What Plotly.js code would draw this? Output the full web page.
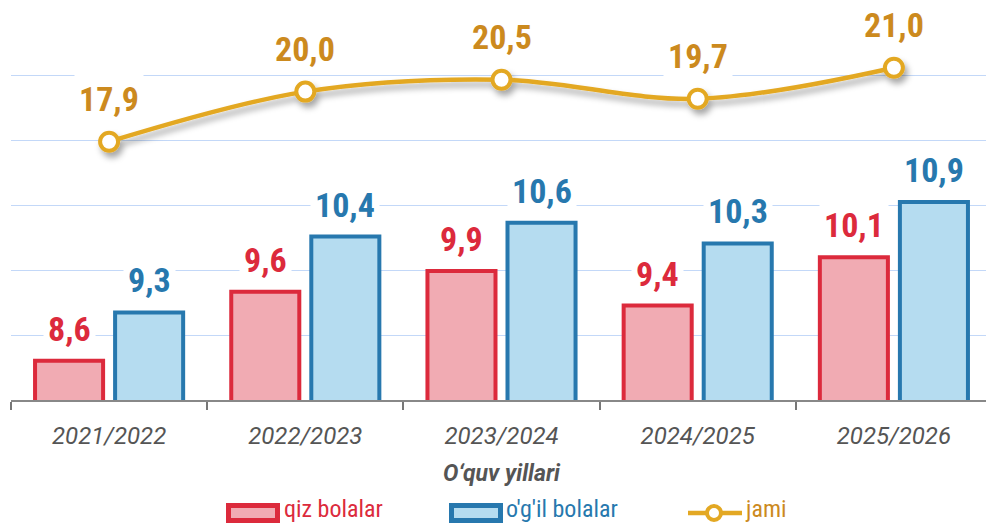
<!DOCTYPE html>
<html>
<head>
<meta charset="utf-8">
<script src="https://cdn.plot.ly/plotly-3.0.1.min.js"></script>
<style>
html,body{margin:0;padding:0;overflow:hidden;background:#fff;}
#chart{width:992px;height:524px;}
</style>
</head>
<body>
<div id="chart"></div>
<script>
const categories = ['2021/2022', '2022/2023', '2023/2024', '2024/2025', '2025/2026'];
const girls = [8.6, 9.6, 9.9, 9.4, 10.1];
const boys = [9.3, 10.4, 10.6, 10.3, 10.9];
const total = [17.9, 20.0, 20.5, 19.7, 21.0];
const seriesNames = ['qiz bolalar', "o'g'il bolalar", 'jami'];
const xTitle = 'O‘quv yillari';

const fmt = v => v.toFixed(1).replace('.', ',');

const RED = '#DC2A3C', RED_FILL = '#F1ABB3';
const BLUE = '#2778AE', BLUE_FILL = '#B5DCF0';
const GOLD = '#E3A823', GOLD_TXT = '#CC8A1E';
const FONT = "'Roboto Condensed', 'Liberation Sans Narrow', 'Roboto', sans-serif";

const y1Range = [8.03, 13.67];
const y2Range = [7.07, 23.38];
const grid = [];
for (let i = 0; i <= 6; i++) grid.push(y1Range[0] + (y1Range[1] - y1Range[0]) * i / 6);

const traces = [
  {type: 'bar', x: categories, y: girls, name: seriesNames[0],
   marker: {color: RED_FILL, line: {color: RED, width: 4}}, hoverinfo: 'y'},
  {type: 'bar', x: categories, y: boys, name: seriesNames[1],
   marker: {color: BLUE_FILL, line: {color: BLUE, width: 4}}, hoverinfo: 'y'},
  {type: 'scatter', mode: 'lines+markers', x: categories, y: total, yaxis: 'y2',
   name: seriesNames[2],
   line: {color: GOLD, width: 4.5, shape: 'spline', smoothing: 1},
   marker: {size: 18, color: '#fff', line: {color: GOLD, width: 4}}, hoverinfo: 'y'}
];

const annotations = [];
const lab = (x, y, yref, txt, color, xshift, yshift) => annotations.push({
  x, y, xref: 'x', yref, text: txt, showarrow: false, xshift, yshift,
  font: {family: FONT, size: 34, color, weight: 'bold'},
  bgcolor: '#ffffff', borderpad: 4, yanchor: 'middle'
});
categories.forEach((c, i) => {
  lab(c, girls[i], 'y', fmt(girls[i]), RED, -40, 32);
  lab(c, boys[i], 'y', fmt(boys[i]), BLUE, 40, 32);
  lab(c, total[i], 'y2', fmt(total[i]), GOLD_TXT, 0, 43);
});

// custom legend (paper coordinates): plot area x 11..992, y 11..400
const PX = px => (px - 11) / 981;
const PY = py => (400 - py) / 389;
const shapes = [
  {type: 'rect', xref: 'paper', yref: 'paper', x0: PX(228.5), x1: PX(277.5), y0: PY(520.5), y1: PY(505.5),
   fillcolor: RED_FILL, line: {color: RED, width: 5}},
  {type: 'rect', xref: 'paper', yref: 'paper', x0: PX(451.5), x1: PX(500.5), y0: PY(520.5), y1: PY(505.5),
   fillcolor: BLUE_FILL, line: {color: BLUE, width: 5}},
  {type: 'line', xref: 'paper', yref: 'paper', x0: PX(688), x1: PX(742), y0: PY(513), y1: PY(513),
   line: {color: GOLD, width: 4.5}},
  {type: 'circle', xref: 'paper', yref: 'paper', x0: PX(707), x1: PX(721), y0: PY(520), y1: PY(506),
   fillcolor: '#fff', line: {color: GOLD, width: 4}}
];
const legText = [[seriesNames[0], 283, RED], [seriesNames[1], 505, BLUE], [seriesNames[2], 744, GOLD_TXT]];
legText.forEach(([t, px, col]) => annotations.push({
  xref: 'paper', yref: 'paper', x: PX(px), y: PY(509), text: t, showarrow: false,
  xanchor: 'left', yanchor: 'middle', borderpad: 0, font: {family: FONT, size: 24, color: col}
}));

const layout = {
  width: 992, height: 524,
  margin: {l: 11, r: 0, t: 11, b: 124, autoexpand: false},
  paper_bgcolor: '#fff', plot_bgcolor: '#fff',
  barmode: 'group', bargap: 0.184, bargroupgap: 0.15,
  font: {family: FONT, color: '#555'},
  xaxis: {
    type: 'category', tickson: 'boundaries', ticks: 'outside', ticklen: 8, tickwidth: 2,
    tickcolor: '#777', showline: true, linecolor: '#888', linewidth: 2, showgrid: false,
    ticklabelstandoff: 13, automargin: false,
    tickfont: {family: 'Roboto, sans-serif', size: 24, color: '#555', style: 'italic'},
    title: {text: xTitle, standoff: 16, font: {family: 'Roboto, sans-serif', size: 23, color: '#555', weight: 'bold', style: 'italic'}}
  },
  yaxis: {
    range: y1Range, tickvals: grid, showticklabels: false, showgrid: true,
    gridcolor: '#C3D8F8', gridwidth: 1, zeroline: false, showline: false, ticks: ''
  },
  yaxis2: {range: y2Range, overlaying: 'y', visible: false, showgrid: false, zeroline: false},
  showlegend: false,
  shapes,
  annotations
};

Plotly.newPlot('chart', traces, layout, {displayModeBar: false, staticPlot: true}).then(gd => {
  const svg = gd.querySelector('svg.main-svg');
  const ns = 'http://www.w3.org/2000/svg';
  let defs = svg.querySelector('defs');
  const f = document.createElementNS(ns, 'filter');
  f.setAttribute('id', 'lineShadow');
  f.setAttribute('x', '-20%'); f.setAttribute('y', '-50%');
  f.setAttribute('width', '140%'); f.setAttribute('height', '200%');
  f.innerHTML = '<feDropShadow dx="3" dy="5" stdDeviation="3" flood-color="#000" flood-opacity="0.35"/>';
  defs.appendChild(f);
  gd.querySelectorAll('.scatterlayer .trace').forEach(t => t.setAttribute('filter', 'url(#lineShadow)'));
});
</script>
</body>
</html>
